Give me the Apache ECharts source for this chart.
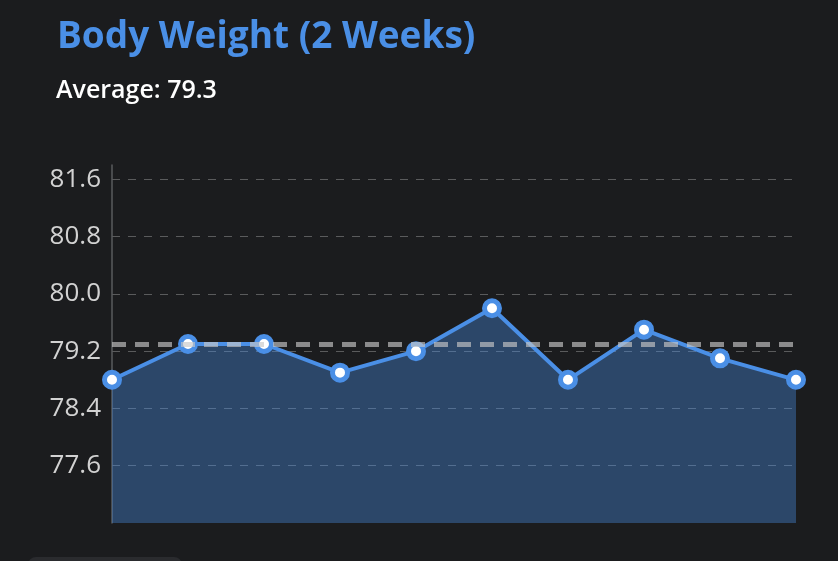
<!DOCTYPE html>
<html><head><meta charset="utf-8">
<script src="https://cdn.jsdelivr.net/npm/echarts@6/dist/echarts.min.js"></script>
<style>html,body{margin:0;padding:0;background:#1b1c1e;}#c{width:838px;height:561px;}</style>
</head><body><div id="c"></div>
<script>
const days = ['D1','D2','D3','D4','D5','D6','D7','D8','D9','D10'];
const weights = [78.8, 79.3, 79.3, 78.9, 79.2, 79.8, 78.8, 79.5, 79.1, 78.8];
const averageValue = 79.3;
const titleText = 'Body Weight (2 Weeks)';
const subText = 'Average: ' + averageValue.toFixed(1);

const chart = echarts.init(document.getElementById('c'));
chart.setOption({
  backgroundColor: '#1b1c1e',
  animation: false,
  title: [{
    text: titleText,
    left: 57, top: 19, padding: 0,
    textStyle: { color: '#4a8fe6', fontSize: 37, fontWeight: 'bold', fontFamily: 'Open Sans' }
  }, {
    text: subText,
    left: 56, top: 78, padding: 0,
    textStyle: { color: '#ffffff', fontSize: 25, fontWeight: 600, fontFamily: 'Open Sans' }
  }],
  grid: { left: 112, right: 42, top: 165, bottom: 38 },
  xAxis: {
    type: 'category', data: days, boundaryGap: false,
    axisLine: { show: false }, axisTick: { show: false }, axisLabel: { show: false },
    splitLine: { show: false }
  },
  yAxis: {
    type: 'value', min: 76.8, max: 81.8, interval: 0.8,
    axisLine: { show: true, lineStyle: { color: '#5a5b5e', width: 1.5 } },
    axisTick: { show: false },
    axisLabel: {
      color: '#d2d2d2', fontSize: 26, fontWeight: 500, fontFamily: 'Open Sans', margin: 11,
      showMinLabel: false, showMaxLabel: false,
      formatter: v => v.toFixed(1)
    },
    splitLine: {
      show: true, showMinLine: false, showMaxLine: false,
      lineStyle: { color: 'rgba(255,255,255,0.28)', type: [8, 8], width: 1 }
    }
  },
  series: [{
    type: 'line', data: weights,
    symbol: 'circle', symbolSize: 15,
    lineStyle: { color: '#4a8fe6', width: 4 },
    itemStyle: { color: '#ffffff', borderColor: '#4a8fe6', borderWidth: 5 },
    areaStyle: { color: 'rgba(74,143,230,0.54)' },
    markLine: {
      silent: true, symbol: 'none',
      label: { show: false },
      lineStyle: { color: 'rgba(200,200,200,0.65)', type: [14, 9], width: 5 },
      data: [{ yAxis: averageValue }]
    }
  }],
  graphic: [{
    type: 'rect', left: 28, top: 557,
    shape: { width: 154, height: 20, r: 8 },
    style: { fill: '#2a2b2e' }
  }]
});
</script></body></html>
